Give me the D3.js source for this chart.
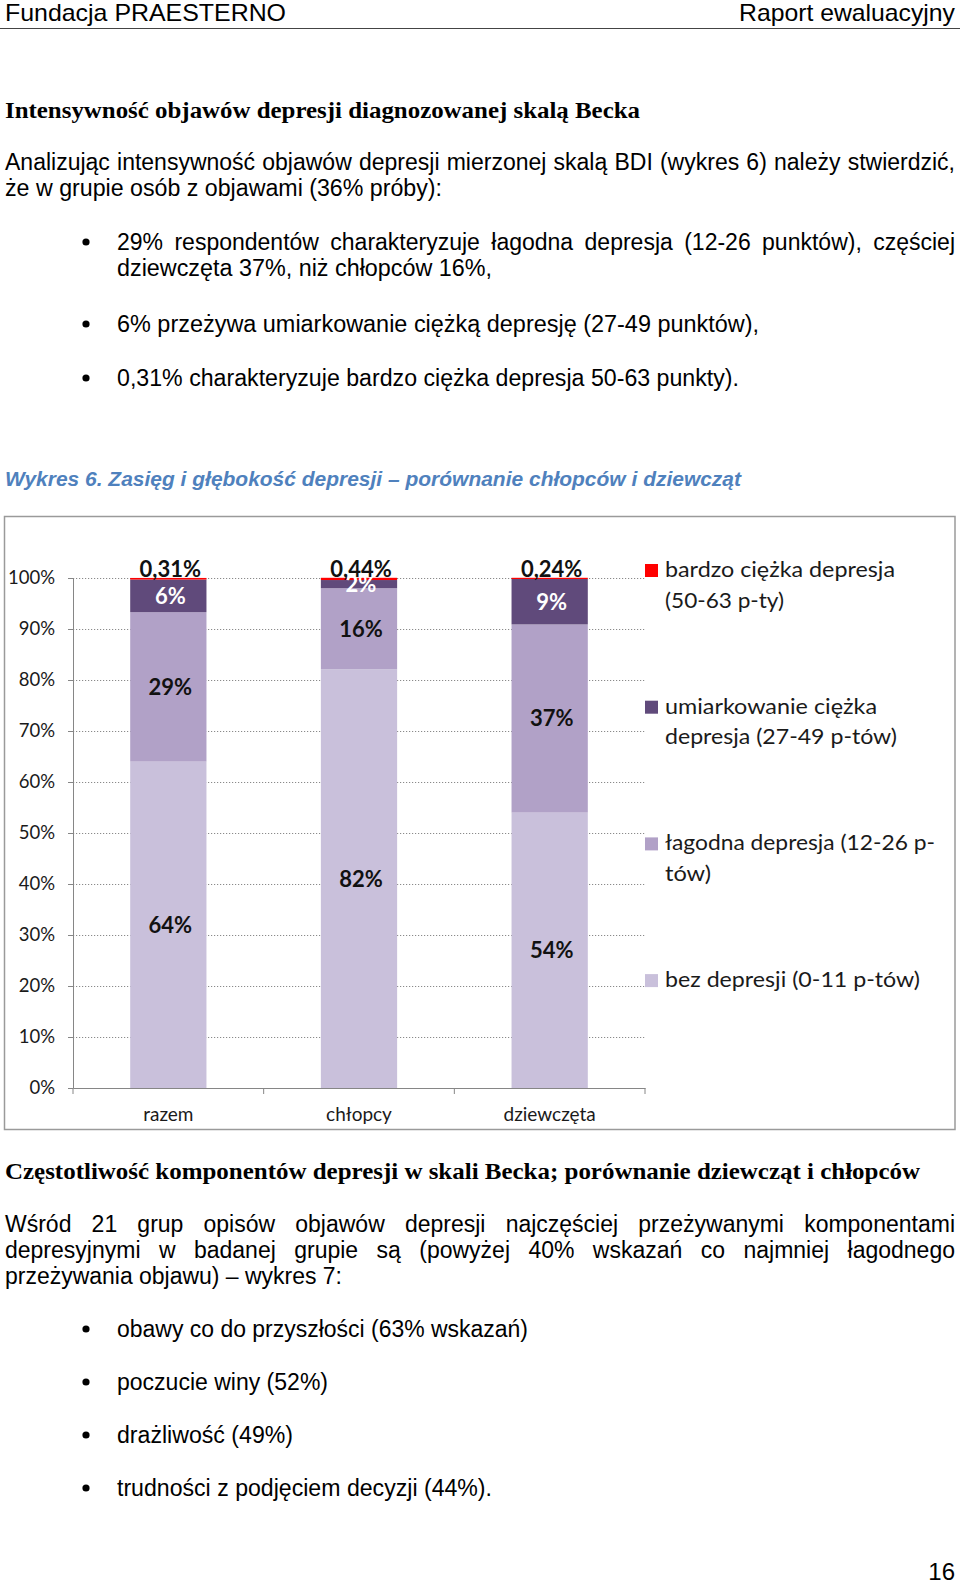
<!DOCTYPE html>
<html><head><meta charset="utf-8">
<script src="https://cdn.jsdelivr.net/npm/d3@7"></script>
<style>body{margin:0;background:#fff} svg{display:block}</style>
</head><body>
<svg id="page" width="960" height="1584"></svg>
<script>
// ---------- DATA ----------
const categories = ["razem", "chłopcy", "dziewczęta"];
const seriesKeys = ["bez", "lagodna", "umiarkowana", "bardzo"];
const bezDepresji = [64.0, 82.1, 54.0];
const lagodna = [29.3, 15.9, 36.9];
const umiarkowana = [6.4, 1.6, 8.9];
const bardzoCiezka = [0.31, 0.44, 0.24];
const yTicks = [0, 10, 20, 30, 40, 50, 60, 70, 80, 90, 100];
const legendLabels = [
  ["bardzo ciężka depresja", "(50-63 p-ty)"],
  ["umiarkowanie ciężka", "depresja (27-49 p-tów)"],
  ["łagodna depresja (12-26 p-", "tów)"],
  ["bez depresji (0-11 p-tów)"]
];
const seriesColors = {bez: "#c9c0db", lagodna: "#b1a1c7", umiarkowana: "#604a7b", bardzo: "#ff0000"};
const labelColors = {bez: "#111", lagodna: "#111", umiarkowana: "#fff", bardzo: "#111"};

const svg = d3.select("#page");
svg.append("rect").attr("width", 960).attr("height", 1584).attr("fill", "#fff");

const SANS = "'Liberation Sans', Arial, sans-serif";
const SERIF = "'Liberation Serif', 'Times New Roman', serif";
const CAL = "Lato, 'Open Sans', sans-serif";

// o.w = target width; o.justify = spread words
function line(str, o) {
  const t = svg.append("text").attr("x", o.x).attr("y", o.y)
    .attr("font-family", o.family || SANS)
    .attr("font-size", o.size || 23)
    .attr("font-weight", o.weight || "normal")
    .attr("font-style", o.style || "normal")
    .attr("fill", o.fill || "#000")
    .attr("text-anchor", o.anchor || "start")
    .text(str);
  if (o.w) {
    const nat = t.node().getComputedTextLength();
    if (o.justify) {
      const n = (str.match(/ /g) || []).length;
      if (n > 0 && o.w > nat) t.attr("word-spacing", (o.w - nat) / n);
    } else {
      t.attr("textLength", o.w).attr("lengthAdjust", "spacingAndGlyphs");
    }
  }
  return t;
}
function bullet(y) {
  svg.append("circle").attr("cx", 86).attr("cy", y - 8).attr("r", 3.6).attr("fill", "#000");
}

// ---------- PAGE TEXT ----------
line("Fundacja PRAESTERNO", {x: 5, y: 21, size: 24, w: 281});
line("Raport ewaluacyjny", {x: 955, y: 21, size: 24, w: 216, anchor: "end"});
svg.append("line").attr("x1", 0).attr("x2", 960).attr("y1", 28.5).attr("y2", 28.5)
  .attr("stroke", "#444").attr("stroke-width", 1);

line("Intensywność objawów depresji diagnozowanej skalą Becka", {x: 5, y: 118, size: 24, weight: "bold", family: SERIF, w: 635});

line("Analizując intensywność objawów depresji mierzonej skalą BDI (wykres 6) należy stwierdzić,", {x: 5, y: 170, w: 950, justify: true});
line("że w grupie osób z objawami (36% próby):", {x: 5, y: 196, w: 437});

bullet(250);
line("29% respondentów charakteryzuje łagodna depresja (12-26 punktów), częściej", {x: 117, y: 250, w: 838, justify: true});
line("dziewczęta 37%, niż chłopców 16%,", {x: 117, y: 276, w: 375});
bullet(332);
line("6% przeżywa umiarkowanie ciężką depresję (27-49 punktów),", {x: 117, y: 332, w: 642});
bullet(386);
line("0,31% charakteryzuje bardzo ciężka depresja 50-63 punkty).", {x: 117, y: 386, w: 622});

line("Wykres 6. Zasięg i głębokość depresji – porównanie chłopców i dziewcząt", {x: 5, y: 486, size: 20, weight: "bold", style: "italic", fill: "#4f81bd", w: 736});

line("Częstotliwość komponentów depresji w skali Becka; porównanie dziewcząt i chłopców", {x: 5, y: 1179, size: 24, weight: "bold", family: SERIF, w: 915});
line("Wśród 21 grup opisów objawów depresji najczęściej przeżywanymi komponentami", {x: 5, y: 1232, w: 950, justify: true});
line("depresyjnymi w badanej grupie są (powyżej 40% wskazań co najmniej łagodnego", {x: 5, y: 1258, w: 950, justify: true});
line("przeżywania objawu) – wykres 7:", {x: 5, y: 1284, w: 337});

bullet(1337);
line("obawy co do przyszłości (63% wskazań)", {x: 117, y: 1337, w: 411});
bullet(1390);
line("poczucie winy (52%)", {x: 117, y: 1390, w: 211});
bullet(1443);
line("drażliwość (49%)", {x: 117, y: 1443, w: 176});
bullet(1496);
line("trudności z podjęciem decyzji (44%).", {x: 117, y: 1496, w: 375});

line("16", {x: 955, y: 1580, size: 24, anchor: "end"});

// ---------- CHART ----------
svg.append("rect").attr("x", 4.5).attr("y", 516.5).attr("width", 950.5).attr("height", 613)
  .attr("fill", "#fff").attr("stroke", "#9a9a9a").attr("stroke-width", 1.5);

const x = d3.scaleBand().domain(categories).range([73, 645]).padding(0);
const y = d3.scaleLinear().domain([0, 100]).range([1088, 578]);
const barW = x.bandwidth() * 0.4;

const table = categories.map((c, i) => ({
  cat: c, bez: bezDepresji[i], lagodna: lagodna[i], umiarkowana: umiarkowana[i], bardzo: bardzoCiezka[i]
}));
const stacked = d3.stack().keys(seriesKeys)(table);

const chart = svg.append("g");

// gridlines
chart.append("g").selectAll("line").data(yTicks.filter(d => d > 0)).join("line")
  .attr("x1", 73).attr("x2", 645)
  .attr("y1", d => Math.round(y(d)) + 0.5).attr("y2", d => Math.round(y(d)) + 0.5)
  .attr("stroke", "#8a8a8a").attr("stroke-width", 1).attr("stroke-dasharray", "1.2,1.8");

// bars
chart.append("g").selectAll("g").data(stacked).join("g")
  .attr("fill", s => seriesColors[s.key])
  .selectAll("rect").data(s => s).join("rect")
  .attr("x", d => x(d.data.cat) + (x.bandwidth() - barW) / 2)
  .attr("width", barW)
  .attr("y", d => y(d[1]))
  .attr("height", d => y(d[0]) - y(d[1]));

// y axis
const yAxis = chart.append("g").attr("transform", "translate(73,0)")
  .call(d3.axisLeft(y).tickValues(yTicks).tickFormat(d => d + "%").tickSize(5).tickPadding(13));
yAxis.select(".domain").attr("stroke", "#868686");
yAxis.selectAll(".tick line").attr("stroke", "#868686");
yAxis.selectAll(".tick text").attr("font-family", CAL).attr("font-size", 18.5).attr("fill", "#1a1a1a");

// x axis
const xAxis = chart.append("g").attr("transform", "translate(0,1088)")
  .call(d3.axisBottom(x).tickSize(0).tickPadding(20));
xAxis.select(".domain").attr("stroke", "#868686");
xAxis.selectAll(".tick text").attr("font-family", CAL).attr("font-size", 19).attr("fill", "#1a1a1a");
const bounds = categories.map(c => x(c)).concat([x.range()[1]]);
xAxis.append("g").selectAll("line").data(bounds).join("line")
  .attr("x1", d => d).attr("x2", d => d).attr("y1", 0).attr("y2", 6)
  .attr("stroke", "#868686");

// data labels
const fmtInt = d3.format(".0f");
const fmtDec = v => d3.format(".2f")(v).replace(".", ",");
const labelG = chart.append("g").attr("font-family", CAL).attr("font-weight", "bold")
  .attr("font-size", 22).attr("text-anchor", "middle");
stacked.forEach(s => {
  labelG.append("g").selectAll("text").data(s).join("text")
    .attr("x", d => x(d.data.cat) + x.bandwidth() / 2 + 2)
    .attr("y", d => s.key === "bardzo" ? y(d[1]) - 1 : (y(d[0]) + y(d[1])) / 2)
    .attr("dy", s.key === "bardzo" ? 0 : "0.36em")
    .attr("fill", labelColors[s.key])
    .text(d => s.key === "bardzo" ? fmtDec(d[1] - d[0]) + "%" : fmtInt(d[1] - d[0]) + "%");
});

// legend (top-to-bottom: reverse of stack order)
const legendKeys = seriesKeys.slice().reverse();
const legendWidths = [[230, 119], [212, 232], [270, 46], [255]];
const leg = chart.append("g");
legendKeys.forEach((k, i) => {
  const base = 577 + i * 136.7;
  leg.append("rect").attr("x", 645).attr("y", base - 13).attr("width", 13).attr("height", 13)
    .attr("fill", seriesColors[k]);
  legendLabels[i].forEach((txt, j) => {
    line(txt, {x: 665, y: base + j * 30.5, size: 21, family: CAL, fill: "#1a1a1a", w: legendWidths[i][j]});
  });
});
</script>
</body></html>
